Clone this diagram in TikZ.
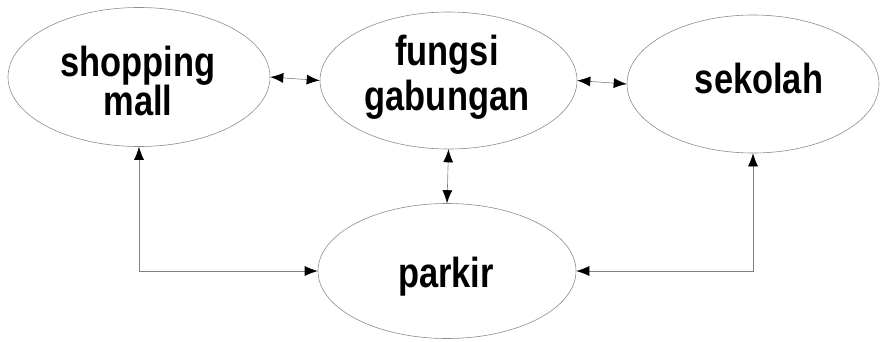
\documentclass[tikz,border=0pt]{standalone}
\usepackage{fontspec}
\setmainfont{Liberation Sans}
\newfontfamily\lblfont[FakeStretch=0.82]{Liberation Sans}
\usetikzlibrary{shapes.geometric,arrows.meta}
\begin{document}
\begin{tikzpicture}[x=1pt,y=-1pt,
  place/.style={ellipse, draw=black!45, line width=0.6pt, inner sep=0pt},
  word/.style={anchor=base, inner sep=0pt,
    font=\lblfont\bfseries\fontsize{42}{42}\selectfont},
  tip/.style={Latex[length=13,width=10,color=black]},
  link/.style={draw=black!50, line width=0.6pt, {Latex[length=13,width=10,color=black]}-{Latex[length=13,width=10,color=black]}}]
\useasboundingbox (0,0) rectangle (880,341);
% the four places
\node[place, minimum width=262, minimum height=139] (shop) at (139,77) {};
\node[place, minimum width=257, minimum height=137] (mix) at (448.5,80.5) {};
\node[place, minimum width=252, minimum height=138] (school) at (753,84) {};
\node[place, minimum width=258, minimum height=135] (park) at (447,271) {};
% their names
\node[word] (shopA) at (138,76) {shopping};
\node[word] (shopB) at (138,115) {mall};
\node[word] (mixA) at (447,65) {fungsi};
\node[word] (mixB) at (447,110) {gabungan};
\node[word] (schoolA) at (759,93) {sekolah};
\node[word] (parkA) at (446,287) {parkir};
% two-way links
\draw[link] (shop.east) -- (mix.west);
\draw[link] (mix.east) -- (school.west);
\draw[link] (mix.south) -- (park.north);
\draw[link] (shop.south) |- (park.west);
\draw[link] (school.south) |- (park.east);
\end{tikzpicture}
\end{document}
